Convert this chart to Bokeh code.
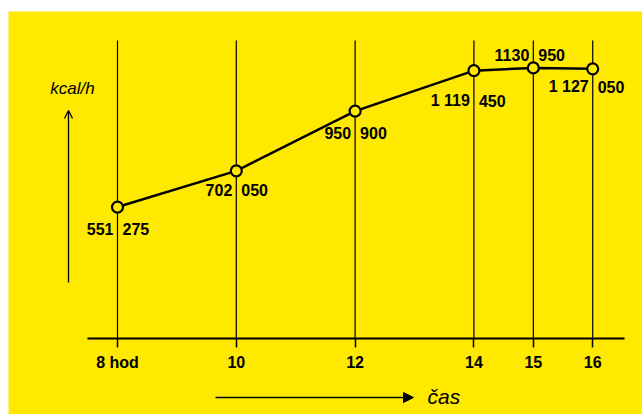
from bokeh.plotting import figure
from bokeh.models import Range1d, FixedTicker, Arrow, NormalHead, OpenHead, Label, ColumnDataSource, Spacer
from bokeh.layouts import column, row
from bokeh.embed import file_html
from bokeh.resources import INLINE
from bokeh.core.properties import value

# ---- data ----
hours = [8, 10, 12, 14, 15, 16]
kcal = [551275, 702050, 950900, 1119450, 1130950, 1127050]
tick_labels = ["8 hod", "10", "12", "14", "15", "16"]
label_left = ["551", "702", "950", "1 119", "1130", "1 127"]
label_right = ["275", "050", "900", "450", "950", "050"]
y_title = "kcal/h"
x_title = "čas"

# ---- layout / style ----
label_dy = [22, 19, 22, 30, -13, 18]
YEL = "#ffe900"
W, H = 634, 403
FONT = "Liberation Sans"
X_START, X_END = 6.165, 16.838          # visible hour range across the whole figure
Y_START, Y_END = -313000, 1366000       # visible kcal/h range across the whole figure
AXIS_AT = 5400                          # value at which the time axis is drawn
AXIS_BOUNDS = (7.495, 16.535)           # extent of the time axis line
GRID_TOP = 1245000                      # upper end of the vertical hour lines

p = figure(width=W, height=H, output_backend="svg", toolbar_location=None,
           x_range=Range1d(X_START, X_END), y_range=Range1d(Y_START, Y_END),
           y_axis_location=None,
           min_border=0, min_border_left=0, min_border_right=0,
           min_border_top=0, min_border_bottom=0,
           background_fill_color=YEL, border_fill_color=YEL, outline_line_color=None)
p.grid.visible = False

ax = p.xaxis[0]
ax.fixed_location = AXIS_AT
ax.bounds = AXIS_BOUNDS
ax.ticker = FixedTicker(ticks=hours)
ax.major_label_overrides = {h: t for h, t in zip(hours, tick_labels)}
ax.axis_line_color = "black"
ax.axis_line_width = 2
ax.major_tick_line_color = "black"
ax.major_tick_line_width = 1.5
ax.major_tick_in = 0
ax.major_tick_out = 9
ax.minor_tick_line_color = None
ax.major_label_standoff = 7
ax.major_label_text_font = FONT
ax.major_label_text_font_size = "16px"
ax.major_label_text_font_style = "bold"
ax.major_label_text_color = "black"

# vertical hour lines
p.segment(x0=hours, y0=[AXIS_AT] * len(hours), x1=hours, y1=[GRID_TOP] * len(hours),
          line_color="black", line_width=1.2)

src = ColumnDataSource(dict(x=hours, y=kcal, l=label_left, r=label_right, dy=label_dy))
p.line("x", "y", source=src, line_color="black", line_width=2.5)
p.scatter("x", "y", source=src, size=11, fill_color=YEL, line_color="black", line_width=2.2)
p.text("x", "y", text="l", source=src, x_offset=-4, y_offset="dy", text_align="right",
       text_baseline="middle", text_font=value(FONT), text_font_size="16px",
       text_font_style="bold", text_color="black")
p.text("x", "y", text="r", source=src, x_offset=5, y_offset="dy", text_align="left",
       text_baseline="middle", text_font=value(FONT), text_font_size="16px",
       text_font_style="bold", text_color="black")

# axis titles with arrows (screen units: from frame bottom-left, y up)
p.add_layout(Label(x=64, y=326, x_units="screen", y_units="screen", text=y_title,
                   text_font=FONT, text_font_size="17px", text_font_style="italic",
                   text_align="center", text_baseline="middle", text_color="black"))
p.add_layout(Arrow(x_start=60, y_start=132, x_end=60, y_end=304,
                   start_units="screen", end_units="screen",
                   line_color="black", line_width=1.3,
                   end=OpenHead(size=8, line_color="black", line_width=1.3)))
p.add_layout(Arrow(x_start=207, y_start=17, x_end=405, y_end=17,
                   start_units="screen", end_units="screen",
                   line_color="black", line_width=1.5,
                   end=NormalHead(size=10, fill_color="black", line_color="black")))
p.add_layout(Label(x=419, y=18, x_units="screen", y_units="screen", text=x_title,
                   text_font=FONT, text_font_size="21px", text_font_style="italic",
                   text_align="left", text_baseline="middle", text_color="black"))

layout = row(Spacer(width=8, height=H + 11), column(Spacer(width=W, height=11), p))
open("out.html", "w").write(file_html(layout, INLINE))
